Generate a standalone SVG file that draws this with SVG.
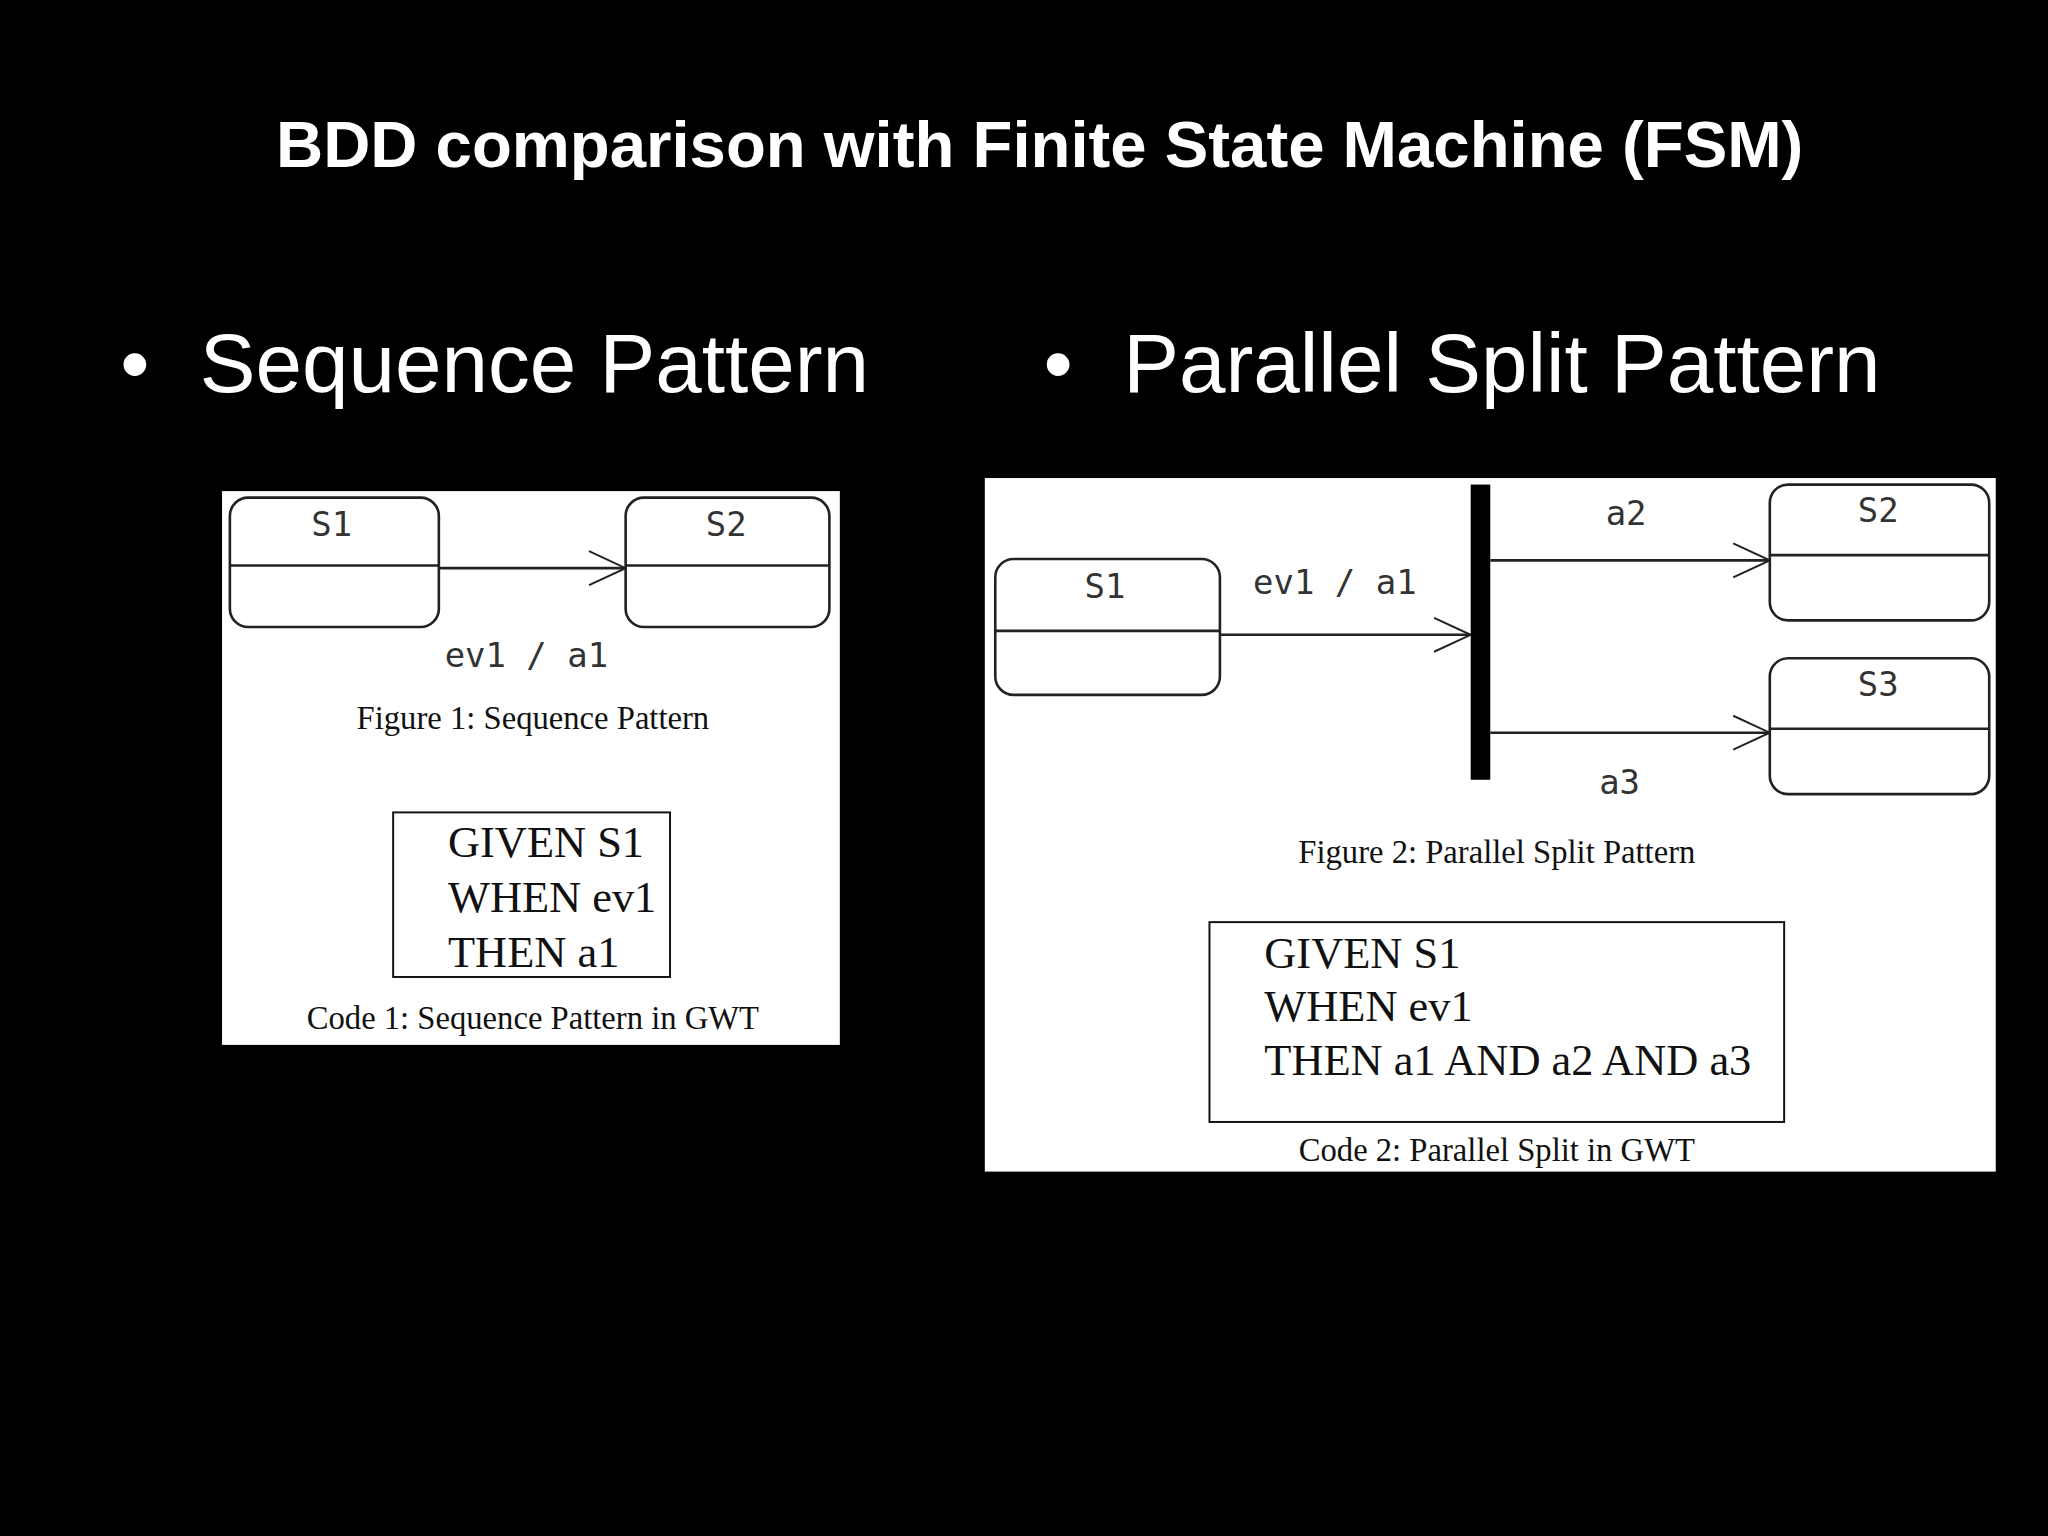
<svg xmlns="http://www.w3.org/2000/svg" width="2048" height="1536" viewBox="0 0 2048 1536">
<defs>
<style>
.st{fill:#fff;stroke:#222;stroke-width:2}
.ln{stroke:#222;stroke-width:2;fill:none}
.mono{font-family:"DejaVu Sans Mono","Liberation Mono",monospace;font-size:26px;fill:#333;text-anchor:middle}
.cap{font-family:"Liberation Serif",serif;font-size:25px;fill:#111;text-anchor:middle}
.code{font-family:"Liberation Serif",serif;font-size:34px;fill:#111}
.big{font-family:"Liberation Sans",Arial,sans-serif;font-size:64px;fill:#fff}
</style>
<marker id="ah" markerWidth="32" markerHeight="32" refX="30" refY="16" orient="auto" markerUnits="userSpaceOnUse">
<path d="M2,3 L30,16 L2,29" fill="none" stroke="#222" stroke-width="1.5"/>
</marker>
</defs>
<rect width="2048" height="1536" fill="#000"/>
<g transform="scale(1.30612)">
<text x="796" y="128" text-anchor="middle" font-family="Liberation Sans,Arial,sans-serif" font-weight="bold" font-size="50" fill="#fff">BDD comparison with Finite State Machine (FSM)</text>
<text class="big" x="92" y="300">•</text><text class="big" x="153" y="300">Sequence Pattern</text>
<text class="big" x="799" y="300">•</text><text class="big" x="860" y="300">Parallel Split Pattern</text>

<rect x="170" y="376" width="473" height="424" fill="#fff"/>
<rect x="754" y="366" width="774" height="531" fill="#fff"/>

<g id="connectors">
<line class="ln" x1="336" y1="435" x2="479" y2="435" marker-end="url(#ah)"/>
<line class="ln" x1="934" y1="486" x2="1126" y2="486" marker-end="url(#ah)"/>
<line class="ln" x1="1141" y1="429" x2="1355" y2="429" marker-end="url(#ah)"/>
<line class="ln" x1="1141" y1="561" x2="1355" y2="561" marker-end="url(#ah)"/>
<text class="mono" x="403" y="511">ev1 / a1</text>
<text class="mono" x="1022" y="455">ev1 / a1</text>
<text class="mono" x="1245" y="402">a2</text>
<text class="mono" x="1240" y="608">a3</text>
</g>

<g id="s1a"><rect class="st" x="176" y="381" width="160" height="99" rx="14"/><line class="ln" x1="176" y1="433" x2="336" y2="433"/><text class="mono" x="254" y="410">S1</text></g>
<g id="s2a"><rect class="st" x="479" y="381" width="156" height="99" rx="14"/><line class="ln" x1="479" y1="433" x2="635" y2="433"/><text class="mono" x="556" y="410">S2</text></g>
<text class="cap" x="408" y="558">Figure 1: Sequence Pattern</text>
<g id="code1"><rect x="301" y="622" width="212" height="126" fill="none" stroke="#111" stroke-width="1.5"/>
<text class="code" x="343" y="656">GIVEN S1</text><text class="code" x="343" y="698">WHEN ev1</text><text class="code" x="343" y="740">THEN a1</text></g>
<text class="cap" x="408" y="788">Code 1: Sequence Pattern in GWT</text>

<g id="s1b"><rect class="st" x="762" y="428" width="172" height="104" rx="14"/><line class="ln" x1="762" y1="483" x2="934" y2="483"/><text class="mono" x="846" y="458">S1</text></g>
<g id="fork"><rect x="1126" y="371" width="15" height="226" fill="#000"/></g>
<g id="s2b"><rect class="st" x="1355" y="371" width="168" height="104" rx="14"/><line class="ln" x1="1355" y1="425" x2="1523" y2="425"/><text class="mono" x="1438" y="400">S2</text></g>
<g id="s3b"><rect class="st" x="1355" y="504" width="168" height="104" rx="14"/><line class="ln" x1="1355" y1="558" x2="1523" y2="558"/><text class="mono" x="1438" y="533">S3</text></g>
<text class="cap" x="1146" y="661">Figure 2: Parallel Split Pattern</text>
<g id="code2"><rect x="926" y="706" width="440" height="153" fill="none" stroke="#111" stroke-width="1.5"/>
<text class="code" x="968" y="741">GIVEN S1</text><text class="code" x="968" y="782">WHEN ev1</text><text class="code" x="968" y="823">THEN a1 AND a2 AND a3</text></g>
<text class="cap" x="1146" y="889">Code 2: Parallel Split in GWT</text>
</g>
</svg>
